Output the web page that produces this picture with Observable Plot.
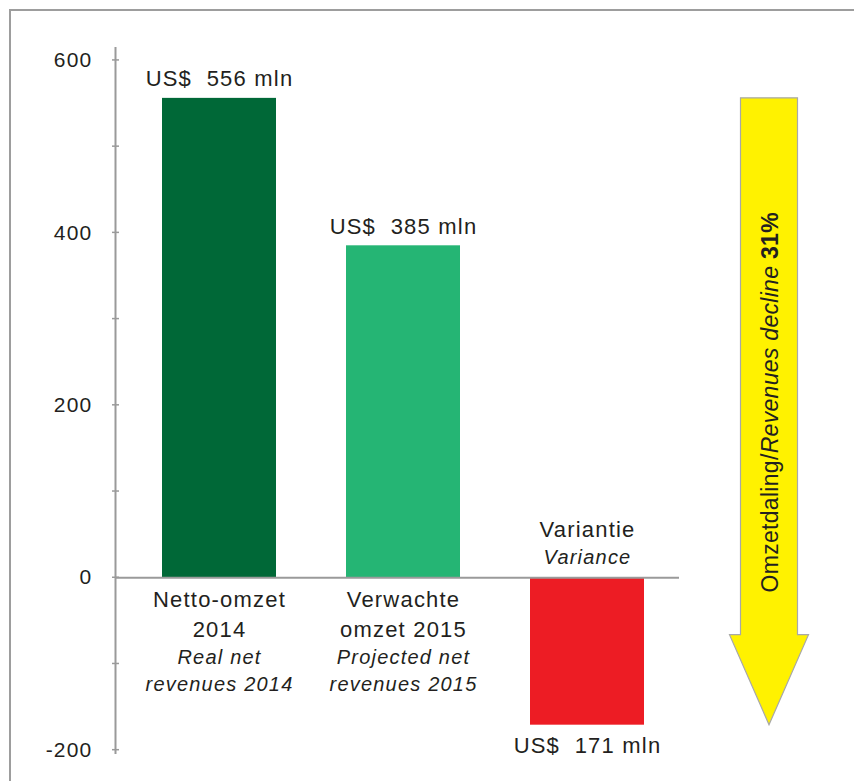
<!DOCTYPE html>
<html><head><meta charset="utf-8">
<script src="https://cdn.jsdelivr.net/npm/d3@7"></script>
<script src="https://cdn.jsdelivr.net/npm/@observablehq/plot@0.6"></script>
<style>
html,body{margin:0;padding:0;background:#fff;overflow:hidden}
#wrap{position:relative;width:854px;height:781px;overflow:hidden}
#border{position:absolute;left:9px;top:9px;width:900px;height:900px;border-top:2px solid #9d9d9d;border-left:2px solid #9d9d9d;pointer-events:none}
#chart svg text{letter-spacing:1.2px}
</style></head><body>
<div id="wrap"><div id="chart"></div><div id="border"></div></div>
<script>
const categories = ["Netto-omzet 2014", "Verwachte omzet 2015", "Variantie"];
const values = [556, 385, -171];
const labelsNL = ["Netto-omzet\n2014", "Verwachte\nomzet 2015", "Variantie"];
const labelsEN = ["Real net\nrevenues 2014", "Projected net\nrevenues 2015", "Variance"];
const barColors = ["#006837", "#25b574", "#ed1c24"];
const yTicks = [-200, 0, 200, 400, 600];
const yMinorTicks = [-100, 100, 300, 500];
const arrowText = ["Omzetdaling/", "Revenues decline ", "31%"];

const rows = categories.map((c, i) => ({category: c, value: values[i], nl: labelsNL[i], en: labelsEN[i]}));
const pos = rows.filter(d => d.value >= 0);
const neg = rows.filter(d => d.value < 0);
const fmt = v => `US$\u00a0\u00a0${Math.abs(v)} mln`;
const ink = "#231f20";

function axisMark(index, scales, vals, dims) {
  const y = scales.y;
  const x0 = dims.marginLeft + 0.5;
  const g = d3.create("svg:g").attr("stroke", "#9a9a9a");
  g.append("line").attr("x1", x0).attr("x2", x0)
    .attr("y1", dims.marginTop).attr("y2", dims.height - dims.marginBottom)
    .attr("stroke-width", 2);
  for (const t of [...yTicks, ...yMinorTicks]) {
    g.append("line").attr("x1", x0 - 3.5).attr("x2", x0 + 3.5)
      .attr("y1", y(t)).attr("y2", y(t)).attr("stroke-width", 1.5);
  }
  return g.node();
}

function arrowMark(index, scales, vals, dims) {
  const y = scales.y;
  const cx = dims.width - 85;
  const top = y(values[0]);
  const tip = y(values[values.length - 1]);
  const headLen = 90, shaftHalf = 28.5, headHalf = 39.5;
  const hy = tip - headLen;
  const pts = [[cx - shaftHalf, top], [cx + shaftHalf, top], [cx + shaftHalf, hy], [cx + headHalf, hy],
               [cx, tip], [cx - headHalf, hy], [cx - shaftHalf, hy]];
  const g = d3.create("svg:g");
  g.append("polygon").attr("points", pts.map(p => p.join(",")).join(" "))
    .attr("fill", "#fff200").attr("stroke", "#a8a8a8").attr("stroke-width", 1.2);
  const ty = (top + tip) / 2 - 9;
  const t = g.append("text")
    .attr("transform", `translate(${cx + 9},${ty}) rotate(-90)`)
    .attr("text-anchor", "middle").attr("fill", ink)
    .attr("font-size", 23).style("letter-spacing", "0.3px");
  t.append("tspan").text(arrowText[0]);
  t.append("tspan").attr("font-style", "italic").text(arrowText[1]);
  t.append("tspan").attr("font-weight", "bold").text(arrowText[2]);
  return g.node();
}

const chart = Plot.plot({
  width: 854,
  height: 781,
  marginLeft: 115,
  marginRight: 175,
  marginTop: 47,
  marginBottom: 27,
  style: {fontFamily: "'Liberation Sans', Arial, Helvetica, sans-serif", color: ink, background: "#fff", overflow: "visible"},
  x: {domain: categories, paddingInner: 0.38, paddingOuter: 0.2225, align: 0.573, axis: null},
  y: {domain: [-205, 615], axis: null},
  color: {domain: categories, range: barColors},
  marks: [
    Plot.barY(rows, {x: "category", y: "value", fill: "category"}),
    Plot.ruleY([0], {stroke: "#9a9a9a", strokeWidth: 2.2}),
    axisMark,
    Plot.axisY({ticks: yTicks, tickSize: 0, tickPadding: 23, fontSize: 21, label: null, tickFormat: d => `${d}`}),
    Plot.text(pos, {x: "category", y: "value", text: d => fmt(d.value), dy: -12, lineAnchor: "bottom", fontSize: 22, fill: ink}),
    Plot.text(neg, {x: "category", y: "value", text: d => fmt(d.value), dy: 28, lineAnchor: "bottom", fontSize: 22, fill: ink}),
    Plot.text(pos, {x: "category", y: () => 0, text: "nl", dy: 59.5, lineAnchor: "bottom", lineHeight: 30 / 22, fontSize: 22, fill: ink}),
    Plot.text(pos, {x: "category", y: () => 0, text: "en", dy: 113.5, lineAnchor: "bottom", lineHeight: 27 / 20, fontSize: 20, fontStyle: "italic", fill: ink}),
    Plot.text(neg, {x: "category", y: () => 0, text: "nl", dy: -40.5, lineAnchor: "bottom", fontSize: 22, fill: ink}),
    Plot.text(neg, {x: "category", y: () => 0, text: "en", dy: -13.5, lineAnchor: "bottom", fontSize: 20, fontStyle: "italic", fill: ink}),
    arrowMark
  ]
});
document.getElementById("chart").append(chart);
</script>
</body></html>
